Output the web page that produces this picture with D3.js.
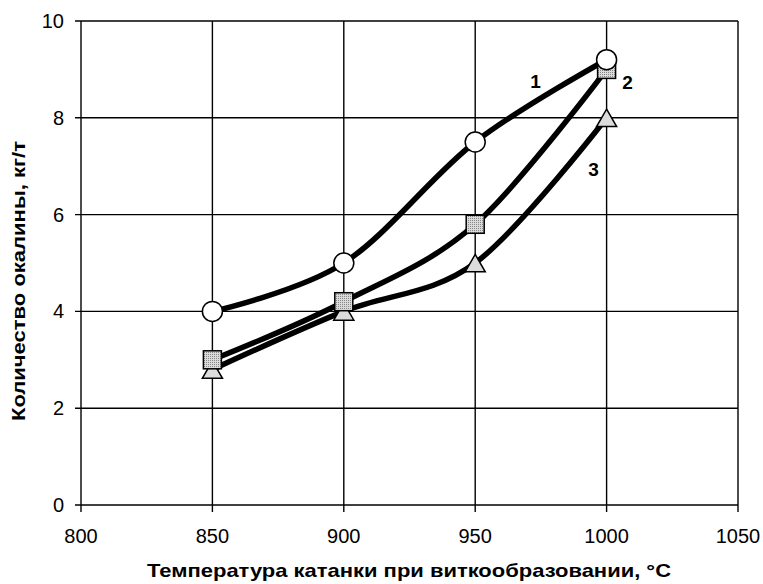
<!DOCTYPE html>
<html><head><meta charset="utf-8">
<script src="https://cdn.jsdelivr.net/npm/d3@7"></script>
<style>body{margin:0;background:#fff}svg{display:block}</style>
</head><body>
<svg id="c" width="763" height="584"></svg>
<script>
const temps = [850, 900, 950, 1000];
const series1 = [4.0, 5.0, 7.5, 9.2];
const series2 = [3.0, 4.2, 5.8, 9.0];
const series3 = [2.8, 4.0, 5.0, 8.0];
const xTicks = [800, 850, 900, 950, 1000, 1050];
const yTicks = [0, 2, 4, 6, 8, 10];
const seriesLabels = ["1", "2", "3"];

const svg = d3.select("#c");
const x = d3.scaleLinear().domain([800, 1050]).range([81, 738]);
const y = d3.scaleLinear().domain([0, 10]).range([505, 21]);
const font = "Liberation Sans, Arial, sans-serif";

// grid
svg.append("g").selectAll("line").data(xTicks).join("line")
  .attr("x1", d => x(d)).attr("x2", d => x(d)).attr("y1", y(10)).attr("y2", y(0) + 7)
  .attr("stroke", "#000").attr("stroke-width", 1.4);
svg.append("g").selectAll("line").data(yTicks).join("line")
  .attr("x1", x(800) - 6).attr("x2", x(1050)).attr("y1", d => y(d)).attr("y2", d => y(d))
  .attr("stroke", "#000").attr("stroke-width", 1.4);

// tick labels
svg.append("g").selectAll("text").data(xTicks).join("text")
  .attr("x", d => x(d)).attr("y", 543).attr("text-anchor", "middle")
  .attr("font-family", font).attr("font-size", 20).text(d => d);
svg.append("g").selectAll("text").data(yTicks).join("text")
  .attr("x", 64).attr("y", d => y(d) + 7).attr("text-anchor", "end")
  .attr("font-family", font).attr("font-size", 20).text(d => d);

// axis titles
svg.append("text").attr("x", 409).attr("y", 577).attr("text-anchor", "middle")
  .attr("font-family", font).attr("font-size", 19).attr("font-weight", "bold")
  .attr("textLength", 524).attr("lengthAdjust", "spacingAndGlyphs")
  .text("Температура катанки при виткообразовании, °C");
svg.append("text").attr("transform", "translate(25,281) rotate(-90)").attr("text-anchor", "middle")
  .attr("font-family", font).attr("font-size", 19).attr("font-weight", "bold")
  .attr("textLength", 280).attr("lengthAdjust", "spacingAndGlyphs")
  .text("Количество окалины, кг/т");

// lines
const line = d3.line().x((d, i) => x(temps[i])).y(d => y(d)).curve(d3.curveCardinal.tension(0));
[series3, series2, series1].forEach(s => {
  svg.append("path").attr("d", line(s)).attr("fill", "none").attr("stroke", "#000").attr("stroke-width", 5.5);
});

// pattern for squares
const defs = svg.append("defs");
const pat = defs.append("pattern").attr("id", "dots").attr("width", 2).attr("height", 2).attr("patternUnits", "userSpaceOnUse");
pat.append("rect").attr("width", 2).attr("height", 2).attr("fill", "#dadada");
pat.append("rect").attr("width", 1).attr("height", 1).attr("fill", "#888");

// markers
svg.append("g").selectAll("path").data(series3).join("path")
  .attr("d", d3.symbol().type(d3.symbolTriangle).size(175))
  .attr("transform", (d, i) => `translate(${x(temps[i])},${y(d) + 3})`)
  .attr("fill", "#dcdcdc").attr("stroke", "#000").attr("stroke-width", 1.5);
svg.append("g").selectAll("rect").data(series2).join("rect")
  .attr("x", (d, i) => x(temps[i]) - 9).attr("y", d => y(d) - 9).attr("width", 18).attr("height", 18)
  .attr("fill", "url(#dots)").attr("stroke", "#000").attr("stroke-width", 1.5);
svg.append("g").selectAll("circle").data(series1).join("circle")
  .attr("cx", (d, i) => x(temps[i])).attr("cy", d => y(d)).attr("r", 10)
  .attr("fill", "#fff").attr("stroke", "#000").attr("stroke-width", 1.5);

// series labels
const labelPos = [[973, 8.62], [1008, 8.6], [995, 6.8]];
svg.append("g").selectAll("text").data(seriesLabels).join("text")
  .attr("x", (d, i) => x(labelPos[i][0])).attr("y", (d, i) => y(labelPos[i][1]))
  .attr("text-anchor", "middle").attr("font-family", font).attr("font-size", 19).attr("font-weight", "bold")
  .text(d => d);
</script>
</body></html>
